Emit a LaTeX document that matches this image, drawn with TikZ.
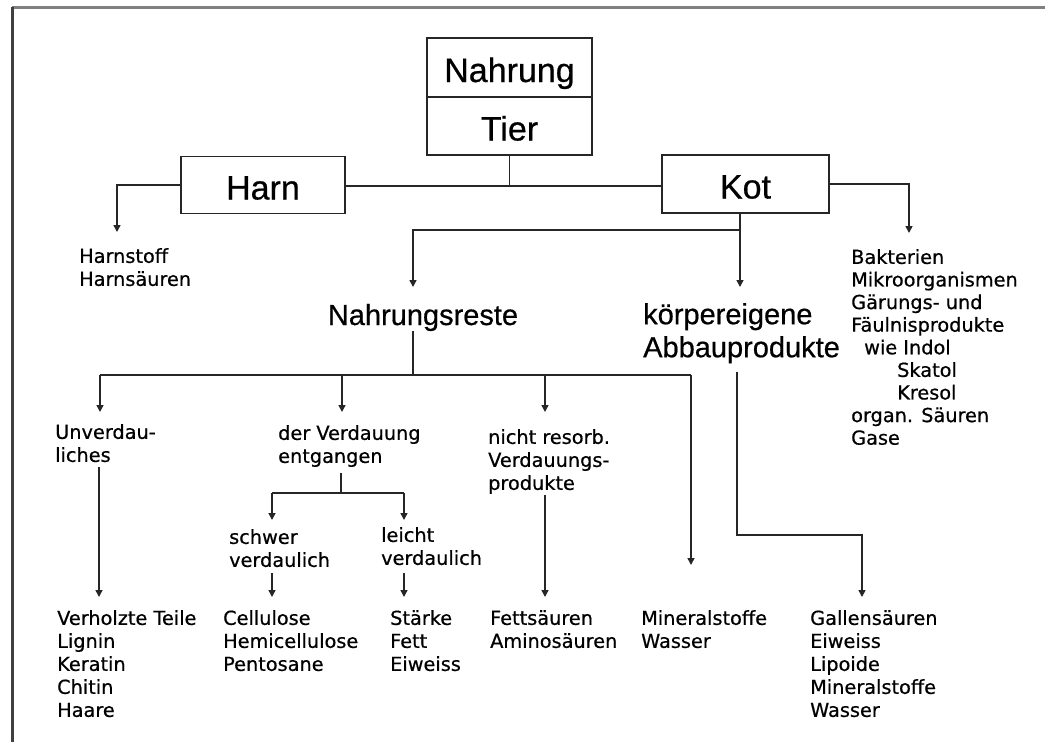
\documentclass[tikz,border=0pt]{standalone}
\usepackage{fontspec}
\setmainfont{Liberation Sans}[FakeBold=0.6]
\newfontfamily\smallfam{DejaVu Sans}[FakeBold=0.6]
\newfontfamily\bigfam{Liberation Sans}[FakeBold=0.6]
\usetikzlibrary{arrows.meta}
\begin{document}
\begin{tikzpicture}[x=1pt,y=-1pt,
  ln/.style={line width=1.5pt, draw=black!85},
  arr/.style={ln, -{Triangle[width=7pt,length=7pt]}},
  bigbox/.style={draw=black!85, line width=1.8pt, minimum width=165pt, font=\bigfam\fontsize{34pt}{40pt}\selectfont, inner sep=0pt, text height=34pt, text depth=5pt},
  mid/.style={font=\bigfam\fontsize{29pt}{33pt}\selectfont, inner sep=0pt, align=left},
  sm/.style={font=\smallfam\fontsize{19.3pt}{23pt}\selectfont, inner sep=0pt, align=left, anchor=north west, execute at begin node={\rule{0pt}{15pt}}},
  smb/.style={sm, font=\smallfam\fontsize{19.3pt}{22.6pt}\selectfont},
]
\useasboundingbox (0,0) rectangle (1045,742);
\fill[white] (0,0) rectangle (1045,742);
% frame
\draw[line width=3pt, draw=black!50] (12,7) -- (1045,7);
\draw[line width=3pt, draw=black!75] (12,7) -- (12,742);

% boxes
\node[bigbox, minimum height=59pt] (nahrung) at (509.5,67.5) {Nahrung};
\node[bigbox, minimum height=58pt] (tier) at (509.5,126) {Tier};
\node[bigbox, minimum width=164pt, minimum height=57pt] (harn) at (263,185) {Harn};
\node[bigbox, minimum width=167pt, minimum height=58pt] (kot) at (745.5,184) {Kot};

% texts
\node[sm] (harnstoff) at (79,248) {Harnstoff\\Harnsäuren};
\node[smb] (bakt) at (851,249) {Bakterien\\Mikroorganismen\\Gärungs- und\\Fäulnisprodukte\\\hspace*{13pt}wie Indol\\\hspace*{46pt}Skatol\\\hspace*{46pt}Kresol\\organ. Säuren\\Gase};
\node[mid, anchor=base] (reste) at (423,325) {Nahrungsreste};
\node[mid, anchor=north west, execute at begin node={\rule{0pt}{22pt}}] (koerper) at (643,303) {körpereigene\\Abbauprodukte};
\node[sm] (unv) at (55,424) {Unverdau-\\liches};
\node[sm] (dva) at (278,425) {der Verdauung\\entgangen};
\node[sm] (nres) at (488,429) {nicht resorb.\\Verdauungs-\\produkte};
\node[sm] (schwer) at (229,529) {schwer\\verdaulich};
\node[sm] (leicht) at (381,527) {leicht\\verdaulich};
\node[sm] (holz) at (57,610) {Verholzte Teile\\Lignin\\Keratin\\Chitin\\Haare};
\node[sm] (cell) at (223,610) {Cellulose\\Hemicellulose\\Pentosane};
\node[sm] (staerke) at (390,610) {Stärke\\Fett\\Eiweiss};
\node[sm] (fett) at (490,610) {Fettsäuren\\Aminosäuren};
\node[sm] (mineral) at (641,610) {Mineralstoffe\\Wasser};
\node[sm] (galle) at (810,610) {Gallensäuren\\Eiweiss\\Lipoide\\Mineralstoffe\\Wasser};

% coordinates
\coordinate (j1) at (509.5,186);
\coordinate (hA) at (117,232);
\coordinate (kA) at (909,233);
\coordinate (kb) at (740,230);
\coordinate (nrA) at (413,287);
\coordinate (kaA) at (740,287);
\coordinate (r1) at (413,375);
\coordinate (rl) at (100,375);
\coordinate (rr) at (691,375);
\coordinate (uA) at (100,412);
\coordinate (dA) at (342,412);
\coordinate (nA) at (545,412);
\coordinate (mA) at (691,565);
\coordinate (u1) at (99,467);
\coordinate (u2) at (99,597);
\coordinate (d1) at (341,473);
\coordinate (d2) at (341,493);
\coordinate (dl) at (272,493);
\coordinate (dr) at (404,493);
\coordinate (sA) at (272,520);
\coordinate (lA) at (404,520);
\coordinate (s1) at (272,573);
\coordinate (s2) at (272,597);
\coordinate (l1) at (404,573);
\coordinate (l2) at (404,597);
\coordinate (n1) at (545,495);
\coordinate (n2) at (545,597);
\coordinate (k1) at (737,372);
\coordinate (k2) at (737,535);
\coordinate (gA) at (862,597);

% connectors
\draw[ln] (tier.south) -- (j1);
\draw[ln] (harn.east |- j1) -- (kot.west |- j1);
\draw[arr] (harn.west) -| (hA);
\draw[arr] (kot.east) -| (kA);
\draw[ln] (kot.south -| kb) -- (kb);
\draw[arr] (kb) -| (nrA);
\draw[arr] (kb) -- (kaA);
\draw[ln] (reste.south -| r1) -- (r1);
\draw[ln] (rl) -- (rr);
\draw[arr] (rl) -- (uA);
\draw[arr] (dA |- rl) -- (dA);
\draw[arr] (nA |- rl) -- (nA);
\draw[arr] (rr) -- (mA);
\draw[arr] (u1) -- (u2);
\draw[ln] (d1) -- (d2);
\draw[ln] (dl) -- (dr);
\draw[arr] (dl) -- (sA);
\draw[arr] (dr) -- (lA);
\draw[arr] (s1) -- (s2);
\draw[arr] (l1) -- (l2);
\draw[arr] (n1) -- (n2);
\draw[arr] (k1) -- (k2) -| (gA);
\end{tikzpicture}
\end{document}
